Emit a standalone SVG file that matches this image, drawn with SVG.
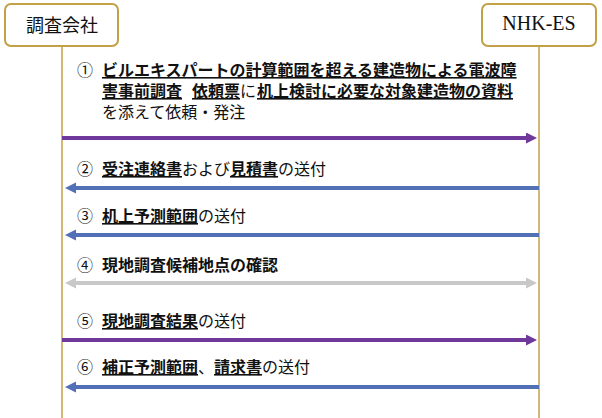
<svg xmlns="http://www.w3.org/2000/svg" width="602" height="418" viewBox="0 0 602 418">
<style>
.box{fill:#fff;stroke:#c2a046;stroke-width:2}
.life{stroke:#c2a046;stroke-width:1.5}
.t{font-family:"Noto Sans CJK JP","Noto Sans",sans-serif;font-size:16px;fill:#111}
.b{font-weight:bold}
.r{font-weight:normal}
.u{text-decoration:underline}
.n{font-family:"Noto Sans CJK JP","Noto Sans",sans-serif;font-size:16px;fill:#111}
.hd{font-family:"Noto Sans CJK JP",sans-serif;font-size:18px;fill:#111}
.purple{stroke:#70389a;stroke-width:4}
.blue{stroke:#5170b6;stroke-width:4}
.gray{stroke:#c8c8c8;stroke-width:4}
</style>
<defs>
<marker id="mp" markerUnits="userSpaceOnUse" markerWidth="12" markerHeight="12" refX="1" refY="5.5" orient="auto"><path d="M0,0 L11,5.5 L0,11 z" fill="#70389a"/></marker>
<marker id="mb" markerUnits="userSpaceOnUse" markerWidth="12" markerHeight="12" refX="1" refY="5.5" orient="auto"><path d="M0,0 L11,5.5 L0,11 z" fill="#5170b6"/></marker>
<marker id="mg" markerUnits="userSpaceOnUse" markerWidth="12" markerHeight="12" refX="1" refY="5.5" orient="auto-start-reverse"><path d="M0,0 L11,5.5 L0,11 z" fill="#c8c8c8"/></marker>
</defs>
<rect width="602" height="418" fill="#fff"/>
<g id="lifelines">
<line class="life" x1="62" y1="46" x2="62" y2="418"/>
<line class="life" x1="539" y1="46" x2="539" y2="418"/>
</g>
<g id="node-chosa">
<rect class="box" x="5" y="4" width="113" height="42" rx="6"/>
<text class="hd" x="62" y="32" text-anchor="middle">調査会社</text>
</g>
<g id="node-nhkes">
<rect class="box" x="482" y="4" width="114" height="42" rx="6"/>
<text x="539" y="30" text-anchor="middle" font-family="'Liberation Serif',serif" font-size="20" fill="#111">NHK-ES</text>
</g>
<g id="connectors">
<line class="purple" x1="62" y1="138" x2="527" y2="138" marker-end="url(#mp)"/>
<line class="blue" x1="539" y1="188" x2="75" y2="188" marker-end="url(#mb)"/>
<line class="blue" x1="539" y1="235" x2="75" y2="235" marker-end="url(#mb)"/>
<line class="gray" x1="75" y1="283" x2="527" y2="283" marker-start="url(#mg)" marker-end="url(#mg)"/>
<line class="purple" x1="62" y1="340" x2="527" y2="340" marker-end="url(#mp)"/>
<line class="blue" x1="539" y1="387" x2="75" y2="387" marker-end="url(#mb)"/>
</g>
<g id="labels">
<text class="n" x="77" y="76">①</text>
<text class="t b"><tspan class="u" x="102" y="76">ビルエキスパートの計算範囲を超える建造物による電波障</tspan><tspan class="u" x="102" y="97">害事前調査</tspan><tspan class="u" x="192" y="97">依頼票</tspan><tspan class="r" x="240" y="97">に</tspan><tspan class="u" x="257" y="97">机上検討に必要な対象建造物の資料</tspan><tspan class="r" x="102" y="118">を添えて依頼・発注</tspan></text>

<text class="n" x="77" y="175">②</text>
<text class="t" y="175"><tspan class="b u" x="102">受注連絡書</tspan><tspan>および</tspan><tspan class="b u">見積書</tspan><tspan>の送付</tspan></text>

<text class="n" x="77" y="222">③</text>
<text class="t" y="222"><tspan class="b u" x="102">机上予測範囲</tspan><tspan>の送付</tspan></text>

<text class="n" x="77" y="271">④</text>
<text class="t b" x="102" y="271">現地調査候補地点の確認</text>

<text class="n" x="77" y="327">⑤</text>
<text class="t" y="327"><tspan class="b u" x="102">現地調査結果</tspan><tspan>の送付</tspan></text>

<text class="n" x="77" y="373">⑥</text>
<text class="t" y="373"><tspan class="b u" x="102">補正予測範囲</tspan><tspan>、</tspan><tspan class="b u">請求書</tspan><tspan>の送付</tspan></text>
</g>
</svg>
